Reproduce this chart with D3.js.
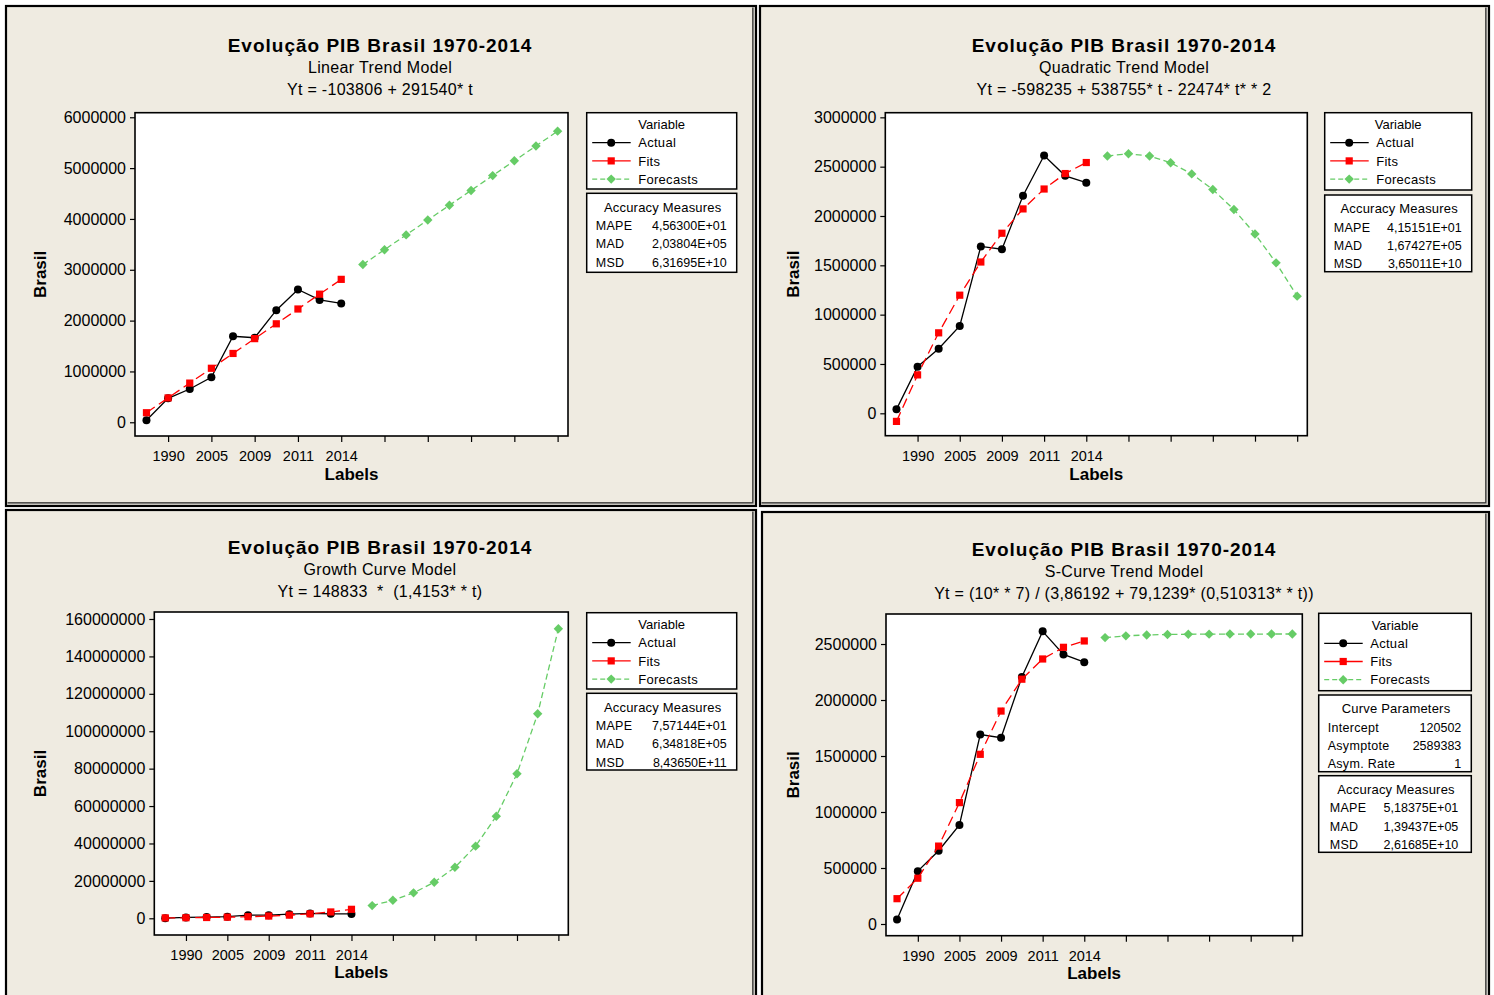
<!DOCTYPE html>
<html><head><meta charset="utf-8">
<script src="https://cdn.jsdelivr.net/npm/d3@7"></script>
<style>
body{margin:0;background:#fff}
svg{display:block}
text{font-family:"Liberation Sans",Arial,sans-serif;fill:#000}
</style>
</head><body>
<svg id="c" width="1494" height="995"></svg>
<script>
// ---------- DATA ----------
const periods = d3.range(1, 21);                 // t = 1..20
const categories = ["1970","1990","2000","2005","2008","2009","2010","2011","2013","2014"];
const xTickValues = [2,4,6,8,10,12,14,16,18,20];
const xTickLabels = ["1990","2005","2009","2011","2014","","","","",""];

const actual = [40000, 472000, 654000, 885000, 1692000, 1663000, 2205000, 2613000, 2407000, 2338000];

const linearFits = [187734, 479274, 770814, 1062354, 1353894, 1645434, 1936974, 2228514, 2520054, 2811594];
const linearForecasts = [3103134, 3394674, 3686214, 3977754, 4269294, 4560834, 4852374, 5143914, 5435454, 5726994];

const quadFits = [-81954, 389379, 815764, 1197201, 1533690, 1825231, 2071824, 2273469, 2430166, 2541915];
const quadForecasts = [2608716, 2630569, 2607474, 2539431, 2426440, 2268501, 2065614, 1817779, 1524996, 1187265];

const growthFits = [210643, 298123, 421934, 597164, 845166, 1196163, 1692929, 2395995, 3391063, 4799371];
const growthForecasts = [6792550, 9613493, 13605979, 19256543, 27253786, 38572282, 54591352, 77263141, 109350522, 154763794];

const scurveFits = [226039, 408709, 695551, 1083663, 1515087, 1901379, 2185772, 2366397, 2470577, 2527364];
const scurveForecasts = [2557361, 2572943, 2580969, 2585084, 2587188, 2588265, 2588813, 2589093, 2589237, 2589310];

const linearYTicks = [0,1000000,2000000,3000000,4000000,5000000,6000000];
const quadYTicks = [0,500000,1000000,1500000,2000000,2500000,3000000];
const growthYTicks = [0,20000000,40000000,60000000,80000000,100000000,120000000,140000000,160000000];
const scurveYTicks = [0,500000,1000000,1500000,2000000,2500000];

const linearAccuracy = [["MAPE","4,56300E+01"],["MAD","2,03804E+05"],["MSD","6,31695E+10"]];
const quadAccuracy = [["MAPE","4,15151E+01"],["MAD","1,67427E+05"],["MSD","3,65011E+10"]];
const growthAccuracy = [["MAPE","7,57144E+01"],["MAD","6,34818E+05"],["MSD","8,43650E+11"]];
const scurveAccuracy = [["MAPE","5,18375E+01"],["MAD","1,39437E+05"],["MSD","2,61685E+10"]];
const scurveParams = [["Intercept","120502"],["Asymptote","2589383"],["Asym. Rate","1"]];

// ---------- STYLE ----------
const BG = "#efebe1", RED = "#ff0000", GREEN = "#66cc66";
const svg = d3.select("#c");

const panels = [
  { frame:[6,6,756,506], plot:[135,112.7,568,436], yDomain:[-270000,6090000], yTicks:linearYTicks,
    fits:linearFits, fc:linearForecasts, cx:380, tY:[51.5,72.5,94.5], xtY:480, ytX:40,
    sub:"Linear Trend Model", eq:"Yt = -103806 + 291540* t",
    legend:{x:586.7,y:112.7,w:150,h:76.3}, boxes:[{x:586.7,y:193.3,w:150,h:79,title:"Accuracy Measures",rows:linearAccuracy}] },
  { frame:[760,6,1489,506], plot:[885.3,112.7,1307.3,435.7], yDomain:[-227000,3047000], yTicks:quadYTicks,
    fits:quadFits, fc:quadForecasts, cx:1124, tY:[51.5,72.5,94.5], xtY:480, ytX:793,
    sub:"Quadratic Trend Model", eq:"Yt = -598235 + 538755* t - 22474* t* * 2",
    legend:{x:1324.7,y:112.7,w:147,h:77.3}, boxes:[{x:1324.7,y:195,w:147,h:76.7,title:"Accuracy Measures",rows:quadAccuracy}] },
  { frame:[6,510,756,1002], plot:[154.3,612,568.3,935], yDomain:[-8930000,163740000], yTicks:growthYTicks,
    fits:growthFits, fc:growthForecasts, cx:380, tY:[553.5,574.5,596.5], xtY:978, ytX:40,
    sub:"Growth Curve Model", eq:"Yt = 148833  *  (1,4153* * t)",
    legend:{x:586.7,y:612.7,w:150,h:76.3}, boxes:[{x:586.7,y:693.3,w:150,h:76.7,title:"Accuracy Measures",rows:growthAccuracy}] },
  { frame:[762,512,1489,1002], plot:[886,614,1302.3,935.7], yDomain:[-104500,2768000], yTicks:scurveYTicks,
    fits:scurveFits, fc:scurveForecasts, cx:1124, tY:[555.5,576.5,598.5], xtY:979, ytX:793,
    sub:"S-Curve Trend Model", eq:"Yt = (10* * 7) / (3,86192 + 79,1239* (0,510313* * t))",
    legend:{x:1318.7,y:613.3,w:152.6,h:77.4},
    boxes:[{x:1318.7,y:695,w:152.6,h:76.7,title:"Curve Parameters",rows:scurveParams},
           {x:1318.7,y:775.7,w:152.6,h:76.6,title:"Accuracy Measures",rows:scurveAccuracy,lx:11,rx:13}] }
];

const diamond = "M0,-4.7L4.7,0L0,4.7L-4.7,0Z";

function drawMarker(g, type, x, y, color) {
  if (type === "circle") g.append("circle").attr("cx",x).attr("cy",y).attr("r",4).attr("fill",color);
  else if (type === "square") g.append("rect").attr("x",x-3.6).attr("y",y-3.6).attr("width",7.2).attr("height",7.2).attr("fill",color);
  else g.append("path").attr("d",diamond).attr("transform",`translate(${x},${y})`).attr("fill",color);
}

panels.forEach(p => {
  const g = svg.append("g");
  const [fx0,fy0,fx1,fy1] = p.frame;
  g.append("rect").attr("x",fx0).attr("y",fy0).attr("width",fx1-fx0).attr("height",fy1-fy0)
    .attr("fill",BG).attr("stroke","#000").attr("stroke-width",2.2);
  g.append("path").attr("d",`M${fx0+1.5},${fy1-2.2}H${fx1-2.2}V${fy0+1.5}`).attr("fill","none").attr("stroke","#999").attr("stroke-width",1);
  g.append("path").attr("d",`M${fx0+1.5},${fy1-3.2}H${fx1-3.2}V${fy0+1.5}`).attr("fill","none").attr("stroke","#111").attr("stroke-width",1);

  const [px0,py0,px1,py1] = p.plot;
  const x = d3.scaleLinear().domain([0.47,20.48]).range([px0,px1]);
  const y = d3.scaleLinear().domain(p.yDomain).range([py1,py0]);

  g.append("rect").attr("x",px0).attr("y",py0).attr("width",px1-px0).attr("height",py1-py0)
    .attr("fill","#fff").attr("stroke","#000").attr("stroke-width",1.6);

  const ya = g.append("g").attr("transform",`translate(${px0},0)`)
    .call(d3.axisLeft(y).tickValues(p.yTicks).tickSize(5).tickPadding(4).tickFormat(d3.format("d")));
  ya.select(".domain").remove();
  ya.selectAll("text").attr("font-size",16).attr("font-family","Liberation Sans, Arial, sans-serif").attr("fill","#000");
  ya.selectAll("line").attr("stroke","#000").attr("stroke-width",1.2);

  const xa = g.append("g").attr("transform",`translate(0,${py1})`)
    .call(d3.axisBottom(x).tickValues(xTickValues).tickSize(6).tickPadding(9).tickFormat((d,i)=>xTickLabels[i]));
  xa.select(".domain").remove();
  xa.selectAll("text").attr("font-size",14.5).attr("font-family","Liberation Sans, Arial, sans-serif").attr("fill","#000");
  xa.selectAll("line").attr("stroke","#000").attr("stroke-width",1.2);

  g.append("text").attr("x",p.cx).attr("y",p.tY[0]).attr("text-anchor","middle").attr("font-size",19)
    .attr("letter-spacing","1px").attr("font-weight","bold").text("Evolução PIB Brasil 1970-2014");
  g.append("text").attr("x",p.cx).attr("y",p.tY[1]).attr("text-anchor","middle").attr("font-size",16)
    .attr("letter-spacing","0.35px").text(p.sub);
  g.append("text").attr("x",p.cx).attr("y",p.tY[2]).attr("text-anchor","middle").attr("font-size",16)
    .attr("letter-spacing","0.3px").attr("xml:space","preserve").style("white-space","pre").text(p.eq);
  g.append("text").attr("x",(px0+px1)/2).attr("y",p.xtY).attr("text-anchor","middle").attr("font-size",17).attr("font-weight","bold").text("Labels");
  g.append("text").attr("transform",`translate(${p.ytX},${(py0+py1)/2}) rotate(-90)`).attr("dy","0.36em")
    .attr("text-anchor","middle").attr("font-size",17).attr("font-weight","bold").text("Brasil");

  const actT = periods.slice(0,10), fcT = periods.slice(10);
  const line = d3.line().x(d=>x(d[0])).y(d=>y(d[1]));
  const actData = actT.map((t,i)=>[t,actual[i]]);
  const fitData = actT.map((t,i)=>[t,p.fits[i]]);
  const fcData = fcT.map((t,i)=>[t,p.fc[i]]);

  g.append("path").attr("d",line(actData)).attr("fill","none").attr("stroke","#000").attr("stroke-width",1.3);
  actData.forEach(d=>drawMarker(g,"circle",x(d[0]),y(d[1]),"#000"));
  g.append("path").attr("d",line(fitData)).attr("fill","none").attr("stroke",RED).attr("stroke-width",1.3).attr("stroke-dasharray","10,5");
  fitData.forEach(d=>drawMarker(g,"square",x(d[0]),y(d[1]),RED));
  g.append("path").attr("d",line(fcData)).attr("fill","none").attr("stroke",GREEN).attr("stroke-width",1.3).attr("stroke-dasharray","6,3.5");
  fcData.forEach(d=>drawMarker(g,"diamond",x(d[0]),y(d[1]),GREEN));

  const L = p.legend;
  g.append("rect").attr("x",L.x).attr("y",L.y).attr("width",L.w).attr("height",L.h).attr("fill","#fff").attr("stroke","#000").attr("stroke-width",1.5);
  g.append("text").attr("x",L.x+L.w/2).attr("y",L.y+16.6).attr("text-anchor","middle").attr("font-size",13).text("Variable");
  const items = [["Actual","#000","circle",null],["Fits",RED,"square",null],["Forecasts",GREEN,"diamond","5,3"]];
  items.forEach((it,i)=>{
    const yy = L.y + 30 + i*18.2;
    g.append("line").attr("x1",L.x+5.5).attr("x2",L.x+44).attr("y1",yy).attr("y2",yy).attr("stroke",it[1]).attr("stroke-width",1.3)
      .attr("stroke-dasharray",it[3]);
    drawMarker(g,it[2],L.x+24.5,yy,it[1]);
    g.append("text").attr("x",L.x+51.5).attr("y",yy+4.6).attr("font-size",13).attr("letter-spacing","0.3px").text(it[0]);
  });

  p.boxes.forEach(B=>{
    g.append("rect").attr("x",B.x).attr("y",B.y).attr("width",B.w).attr("height",B.h).attr("fill","#fff").attr("stroke","#000").attr("stroke-width",1.5);
    g.append("text").attr("x",B.x+B.w/2+1).attr("y",B.y+18.4).attr("text-anchor","middle").attr("font-size",13).attr("letter-spacing","0.2px").text(B.title);
    B.rows.forEach((r,i)=>{
      const yy = B.y + 36.7 + i*18.3;
      g.append("text").attr("x",B.x+(B.lx||9)).attr("y",yy).attr("font-size",12.5).attr("letter-spacing","0.3px").text(r[0]);
      g.append("text").attr("x",B.x+B.w-(B.rx||10)).attr("y",yy).attr("text-anchor","end").attr("font-size",12.5).text(r[1]);
    });
  });
});
</script>
</body></html>
